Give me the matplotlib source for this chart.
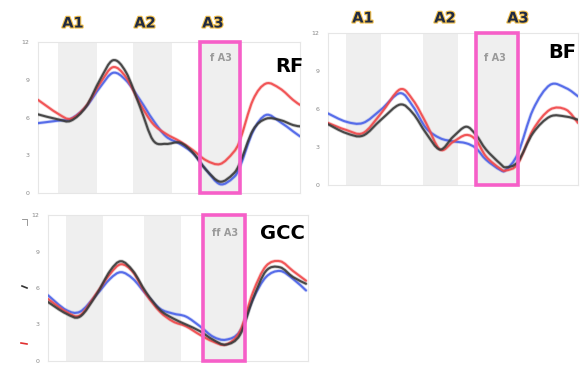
import matplotlib
matplotlib.use("Agg")
import matplotlib.pyplot as plt
import matplotlib.patheffects as pe
from matplotlib.patches import Rectangle, PathPatch
from matplotlib.path import Path
from matplotlib.lines import Line2D
import matplotlib.transforms as mtransforms

# ---- data (x = time units along each panel) ----
rf_x = [0, 20, 33, 48, 62, 75, 88, 102, 115, 128, 142, 155, 168, 182, 195, 202, 215, 228, 242, 255, 262]
rf_red = [7.4, 6.3, 5.9, 6.9, 8.7, 10.0, 9.2, 7.1, 5.5, 4.7, 4.1, 3.4, 2.6, 2.3, 3.2, 4.2, 7.4, 8.7, 8.3, 7.4, 7.0]
rf_black = [6.25, 5.85, 5.75, 6.85, 9.0, 10.55, 9.6, 6.85, 4.2, 3.9, 4.0, 3.2, 1.85, 0.9, 1.5, 2.4, 5.0, 5.9, 5.8, 5.4, 5.3]
rf_blue = [5.55, 5.75, 5.9, 6.85, 8.4, 9.55, 8.95, 7.4, 5.8, 4.5, 3.9, 3.15, 1.85, 0.7, 1.2, 2.1, 4.9, 6.2, 5.65, 4.9, 4.5]

bf_x = [0, 18, 35, 53, 72, 85, 98, 112, 125, 138, 148, 158, 172, 178, 190, 205, 222, 238, 250]
bf_red = [4.9, 4.35, 4.1, 5.65, 7.55, 6.7, 4.9, 2.8, 3.4, 3.95, 3.55, 2.25, 1.3, 1.15, 1.7, 4.35, 5.95, 5.95, 4.9]
bf_black = [4.8, 4.1, 3.9, 5.15, 6.35, 5.65, 4.1, 2.8, 3.8, 4.6, 3.95, 2.8, 1.7, 1.4, 1.85, 4.1, 5.4, 5.4, 5.15]
bf_blue = [5.65, 5.0, 4.9, 5.95, 7.25, 6.2, 4.5, 3.7, 3.45, 3.3, 2.9, 2.0, 1.2, 1.2, 2.5, 5.95, 7.9, 7.65, 7.0]

gcc_x = [0, 18, 32, 48, 62, 73, 85, 98, 112, 125, 138, 152, 165, 178, 192, 205, 218, 232, 245, 258]
gcc_red = [5.1, 4.05, 3.75, 5.5, 7.15, 7.95, 7.3, 5.5, 4.05, 3.25, 2.85, 2.15, 1.6, 1.35, 2.45, 5.65, 7.8, 8.2, 7.4, 6.6]
gcc_black = [4.85, 3.9, 3.65, 5.4, 7.4, 8.2, 7.4, 5.65, 4.2, 3.5, 3.0, 2.45, 1.75, 1.35, 2.15, 5.1, 7.4, 7.7, 6.9, 6.35]
gcc_blue = [5.4, 4.2, 4.05, 5.4, 6.75, 7.3, 6.75, 5.5, 4.3, 3.9, 3.65, 2.85, 2.0, 1.75, 2.45, 5.1, 6.9, 7.4, 6.75, 5.8]

# shaded phases (A1, A2, A3) per panel
rf_bands = [(20, 59), (95, 134), (162, 202)]
bf_bands = [(18, 53), (95, 130), (148, 190)]
gcc_bands = [(18, 55), (96, 133), (155, 197)]

yticks = [0, 3, 6, 9, 12]

RED = '#f0484a'
BLACK = '#3a3a3a'
BLUE = '#4a62e8'
PINK = '#f65fc8'

W, H = 584, 365
fig = plt.figure(figsize=(5.84, 3.65), dpi=100)


def smooth_path(x, y):
    # excel-style smoothed line: bezier segments through the points
    verts = [(x[0], y[0])]
    codes = [Path.MOVETO]
    n = len(x)
    for i in range(n - 1):
        x0, y0 = (x[i - 1], y[i - 1]) if i > 0 else (x[i], y[i])
        x3, y3 = (x[i + 2], y[i + 2]) if i + 2 < n else (x[i + 1], y[i + 1])
        c1 = (x[i] + (x[i + 1] - x0) / 6, y[i] + (y[i + 1] - y0) / 6)
        c2 = (x[i + 1] - (x3 - x[i]) / 6, y[i + 1] - (y3 - y[i]) / 6)
        verts += [c1, c2, (x[i + 1], y[i + 1])]
        codes += [Path.CURVE4] * 3
    return Path(verts, codes)


def panel(rect, x, red, black, blue, bands, xmax, name, name_xy, fa3, fa3_xy):
    l, t, r, b = rect
    ax = fig.add_axes([l / W, 1 - b / H, (r - l) / W, (b - t) / H])
    for a, c in bands:
        ax.axvspan(a, c, color='#efefef', lw=0, zorder=0)
    for ys, col in [(blue, BLUE), (red, RED), (black, BLACK)]:
        p = PathPatch(smooth_path(x, ys), fill=False, ec=col, lw=1.5, alpha=0.9,
                      joinstyle='round', capstyle='round', zorder=3,
                      path_effects=[pe.Stroke(linewidth=2.6, foreground=col, alpha=0.25), pe.Normal()])
        ax.add_patch(p)
    ax.set_xlim(0, xmax)
    ax.set_ylim(0, 12)
    ax.set_yticks(yticks)
    ax.set_xticks([])
    ax.tick_params(axis='y', length=0, labelsize=4.5, labelcolor='#888888', pad=6)
    for s in ax.spines.values():
        s.set_color('#e6e6e6')
        s.set_linewidth(0.8)
    # pink box around A3
    trans = mtransforms.blended_transform_factory(ax.transData, ax.transAxes)
    a, c = bands[2]
    ax.add_patch(Rectangle((a, 0), c - a, 1.0, transform=trans, fill=False,
                           ec=PINK, lw=2.6, clip_on=False, zorder=5))
    fig.text(fa3_xy[0] / W, 1 - fa3_xy[1] / H, fa3, fontsize=7, color='#9a9a9a',
             fontweight='bold', ha='center', va='center')
    fig.text(name_xy[0] / W, 1 - name_xy[1] / H, name, fontsize=14, color='black',
             fontweight='bold', ha='center', va='center')
    return ax


panel((38, 42, 300, 193), rf_x, rf_red, rf_black, rf_blue, rf_bands, 262,
      'RF', (289, 66), 'f A3', (221, 58))
panel((328, 33, 578, 185), bf_x, bf_red, bf_black, bf_blue, bf_bands, 250,
      'BF', (562, 52), 'f A3', (495, 58))
panel((48, 215, 308, 361), gcc_x, gcc_red, gcc_black, gcc_blue, gcc_bands, 260,
      'GCC', (282, 233), 'ff A3', (225, 233))

# phase labels above the top panels
glow = [pe.withStroke(linewidth=1.6, foreground='#f2c14e')]
for txt, px, py in [('A1', 73, 23), ('A2', 145, 23), ('A3', 213, 23),
                    ('A1', 363, 18), ('A2', 445, 18), ('A3', 518, 18)]:
    fig.text(px / W, 1 - py / H, txt, fontsize=10.5, fontweight='bold', color='#1f2a44',
             ha='center', va='center', path_effects=glow)

# small leftover marks at the left edge of the bottom panel
fig.add_artist(Line2D([22 / W, 27 / W], [1 - 286 / H, 1 - 288 / H], color='#333333', lw=1.2))
fig.add_artist(Line2D([21 / W, 27 / W], [1 - 343 / H, 1 - 344 / H], color='#e03030', lw=1.2))
fig.add_artist(Line2D([22 / W, 27 / W, 27 / W], [1 - 219 / H, 1 - 219 / H, 1 - 225 / H], color='#888888', lw=0.6))

fig.savefig('out.png', dpi=100)
